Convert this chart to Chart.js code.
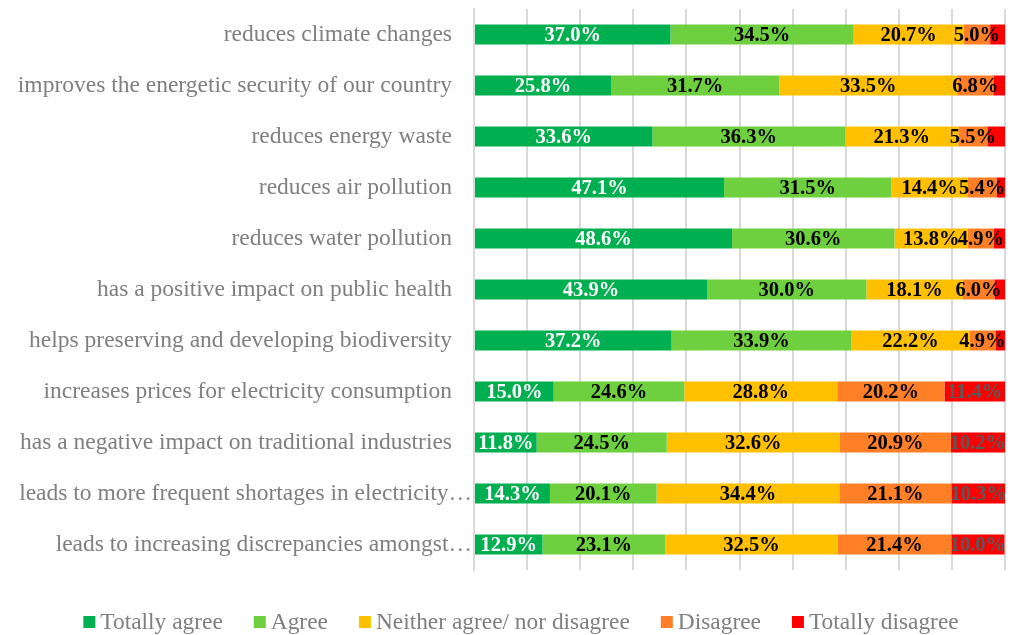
<!DOCTYPE html>
<html>
<head>
<meta charset="utf-8">
<script src="https://cdn.jsdelivr.net/npm/chart.js@4.4.0/dist/chart.umd.min.js"></script>
<style>
  html, body { margin: 0; padding: 0; background: #fff; }
  #wrap { width: 1015px; height: 635px; position: relative; }
</style>
</head>
<body>
<div id="wrap"><canvas id="bar-chart"></canvas></div>
<script>
// categories (two long ones are cut in the original)
var categorias = [
  'reduces climate changes',
  'improves the energetic security of our country',
  'reduces energy waste',
  'reduces air pollution',
  'reduces water pollution',
  'has a positive impact on public health',
  'helps preserving and developing biodiversity',
  'increases prices for electricity consumption',
  'has a negative impact on traditional industries',
  'leads to more frequent shortages in electricity\u2026',
  'leads to increasing discrepancies amongst\u2026'
]
var cortado = [false, false, false, false, false, false, false, false, false, true, true]

var seriesNomes = ['Totally agree', 'Agree', 'Neither agree/ nor disagree', 'Disagree', 'Totally disagree']

var totallyAgree    = [37.0, 25.8, 33.6, 47.1, 48.6, 43.9, 37.2, 15.0, 11.8, 14.3, 12.9]
var agree           = [34.5, 31.7, 36.3, 31.5, 30.6, 30.0, 33.9, 24.6, 24.5, 20.1, 23.1]
var neither         = [20.7, 33.5, 21.3, 14.4, 13.8, 18.1, 22.2, 28.8, 32.6, 34.4, 32.5]
var disagree        = [5.0, 6.8, 5.5, 5.4, 4.9, 6.0, 4.9, 20.2, 20.9, 21.1, 21.4]
var totallyDisagree = [2.8, 2.2, 3.3, 1.6, 2.1, 2.0, 1.8, 11.4, 10.2, 10.3, 10.0]

var cores = ['#00B050', '#6FD03F', '#FFC000', '#FF7F27', '#FF0000']
var coresTexto = ['#ffffff', '#000000', '#000000', '#000000', '#595959']

var fonte = '"Liberation Serif", "DejaVu Serif", serif'

var valores = [totallyAgree, agree, neither, disagree, totallyDisagree]

var datasets = valores.map(function (v, i) {
  return {
    label: seriesNomes[i],
    data: v,
    backgroundColor: cores[i],
    borderWidth: 0,
    barPercentage: 0.8,
    categoryPercentage: 0.49
  }
})

// rotulos de categoria, valores e legenda desenhados a mao
var desenhaTextos = {
  id: 'desenhaTextos',
  afterDatasetsDraw: function (chart) {
    var c = chart.ctx
    var yScale = chart.scales.y
    c.save()

    // category labels
    c.font = '23.5px ' + fonte
    c.fillStyle = '#7f7f7f'
    c.textAlign = 'right'
    c.textBaseline = 'middle'
    categorias.forEach(function (cat, i) {
      var y = yScale.getPixelForValue(i)
      var xr = cortado[i] ? 472 : 452
      c.fillText(cat, xr, y)
    })

    // data labels
    c.font = 'bold 20.5px ' + fonte
    c.textAlign = 'center'
    chart.data.datasets.forEach(function (ds, d) {
      var meta = chart.getDatasetMeta(d)
      meta.data.forEach(function (bar, i) {
        var v = ds.data[i]
        if (v < 4) return
        c.fillStyle = coresTexto[d]
        c.fillText(v.toFixed(1) + '%', (bar.x + bar.base) / 2, bar.y + 1)
      })
    })

    // legend
    c.font = '23.4px ' + fonte
    c.textAlign = 'left'
    var box = 12, gap = 5, esp = 31
    var larguras = seriesNomes.map(function (n) { return box + gap + c.measureText(n).width })
    var total = larguras.reduce(function (a, b) { return a + b }, 0) + esp * (seriesNomes.length - 1)
    var x = 521 - total / 2
    var yl = 622
    seriesNomes.forEach(function (n, i) {
      c.fillStyle = cores[i]
      c.fillRect(x, yl - 6, box, box)
      c.fillStyle = '#7f7f7f'
      c.fillText(n, x + box + gap, yl + 1)
      x += larguras[i] + esp
    })
    c.restore()
  }
}

var ctx = document.querySelector('#bar-chart')

new Chart(ctx, {
  type: 'bar',
  data: {
    labels: categorias,
    datasets: datasets
  },
  options: {
    indexAxis: 'y',
    responsive: true,
    maintainAspectRatio: false,
    animation: false,
    layout: {
      padding: { left: 0, right: 10, top: 9, bottom: 65 }
    },
    plugins: {
      legend: { display: false },
      tooltip: { enabled: false }
    },
    scales: {
      x: {
        stacked: true,
        min: 0,
        max: 100,
        ticks: { display: false, stepSize: 10 },
        grid: { color: '#d9d9d9', lineWidth: 2, drawTicks: false },
        border: { display: false }
      },
      y: {
        stacked: true,
        ticks: { display: false },
        grid: { display: false, drawTicks: false },
        border: { display: true, color: '#d9d9d9', width: 2 },
        afterFit: function (scale) { scale.width = 474 }
      }
    }
  },
  plugins: [desenhaTextos]
})
</script>
</body>
</html>
